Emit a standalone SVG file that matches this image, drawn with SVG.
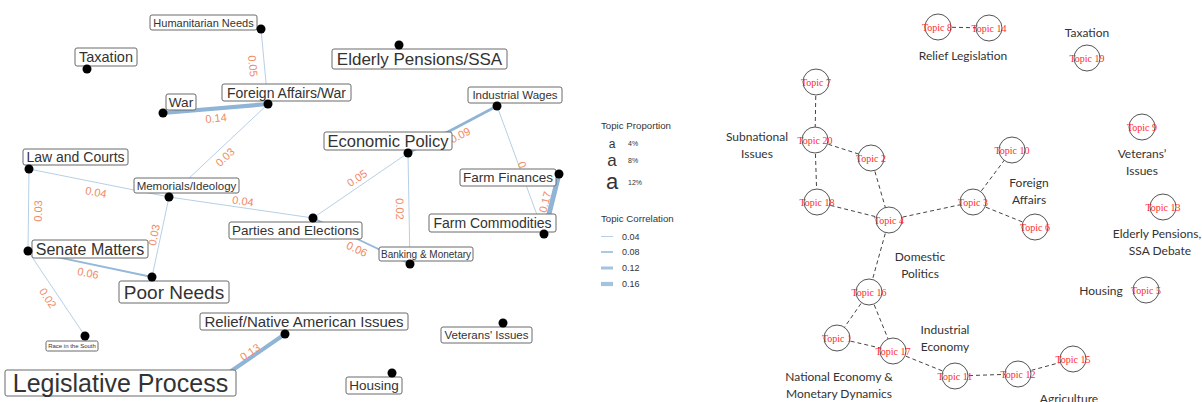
<svg xmlns="http://www.w3.org/2000/svg" width="1202" height="402" viewBox="0 0 1202 402">
<style>
.e{stroke:#a3c3df;fill:none;stroke-linecap:round}
.el{fill:#f08a65;font-family:"Liberation Sans",Arial,sans-serif;font-size:11px;text-anchor:middle}
.bx{fill:#fff;stroke:#6a6a6a;stroke-width:1}
.bt{fill:#333;font-family:"Liberation Sans",Arial,sans-serif;text-anchor:middle}
.dot{fill:#000}
.lg{fill:#333;font-family:"Liberation Sans",Arial,sans-serif}
.de{stroke:#444;stroke-width:1;stroke-dasharray:4 3;fill:none}
.tc{fill:#fff;stroke:#555;stroke-width:1}
.tt{fill:#ff2b2b;font-family:"Liberation Serif","Times New Roman",serif;font-size:10px;text-anchor:middle}
.rt{fill:#333;font-family:Lato,"Liberation Sans",sans-serif;font-size:12px;text-anchor:middle}
</style>
<rect width="1202" height="402" fill="#fff"/>
<!-- Left network connectors -->
<g id="connectors-left">
<line class="e" x1="261" y1="29" x2="268" y2="104" stroke-width="0.8"/>
<line class="e" x1="163" y1="113" x2="268" y2="104" stroke-width="4.2" style="stroke:#8fb4d6"/>
<line class="e" x1="268" y1="104" x2="169" y2="197" stroke-width="0.8"/>
<line class="e" x1="29" y1="169" x2="169" y2="197" stroke-width="0.8"/>
<line class="e" x1="169" y1="197" x2="313" y2="218" stroke-width="0.8"/>
<line class="e" x1="169" y1="197" x2="152" y2="277" stroke-width="0.8"/>
<line class="e" x1="29" y1="169" x2="28" y2="251" stroke-width="0.8"/>
<line class="e" x1="28" y1="251" x2="152" y2="277" stroke-width="1.8" style="stroke:#95b8d9"/>
<line class="e" x1="28" y1="251" x2="85" y2="336" stroke-width="0.8"/>
<line class="e" x1="285" y1="334" x2="224" y2="376" stroke-width="4" style="stroke:#8fb4d6"/>
<line class="e" x1="408" y1="153" x2="497" y2="106" stroke-width="2.6" style="stroke:#8fb4d6"/>
<line class="e" x1="408" y1="153" x2="313" y2="218" stroke-width="0.8"/>
<line class="e" x1="408" y1="153" x2="410" y2="264" stroke-width="0.8"/>
<line class="e" x1="313" y1="218" x2="410" y2="264" stroke-width="1.8" style="stroke:#95b8d9"/>
<line class="e" x1="497" y1="106" x2="544" y2="234" stroke-width="0.8"/>
<line class="e" x1="559" y1="174" x2="544" y2="234" stroke-width="5" style="stroke:#8fb4d6"/>
</g>
<g id="edge-labels">
<text class="el" transform="translate(253,66) rotate(85)" dy="4">0.05</text>
<text class="el" transform="translate(216,118) rotate(-5)" dy="4">0.14</text>
<text class="el" transform="translate(225,157) rotate(-43)" dy="4">0.03</text>
<text class="el" transform="translate(96,192) rotate(11)" dy="4">0.04</text>
<text class="el" transform="translate(243,201) rotate(8)" dy="4">0.04</text>
<text class="el" transform="translate(154,235) rotate(-78)" dy="4">0.03</text>
<text class="el" transform="translate(38,211) rotate(-89)" dy="4">0.03</text>
<text class="el" transform="translate(88,273) rotate(12)" dy="4">0.06</text>
<text class="el" transform="translate(48,298) rotate(56)" dy="4">0.02</text>
<text class="el" transform="translate(250,352) rotate(-34)" dy="4">0.13</text>
<text class="el" transform="translate(460,135) rotate(-28)" dy="4">0.09</text>
<text class="el" transform="translate(357,178) rotate(-34)" dy="4">0.05</text>
<text class="el" transform="translate(400,209) rotate(89)" dy="4">0.02</text>
<text class="el" transform="translate(357,249) rotate(25)" dy="4">0.06</text>
<text class="el" transform="translate(525,172) rotate(70)" dy="4">0.03</text>
<text class="el" transform="translate(545,202) rotate(-76)" dy="4">0.17</text>
</g>
<!-- Left nodes -->
<g id="n-humanitarian"><rect class="bx" x="150" y="15" width="107" height="15" rx="2"/><text class="bt" x="203.5" y="26.5" font-size="11">Humanitarian Needs</text><circle class="dot" cx="261" cy="29" r="4.5"/></g>
<g id="n-taxation"><rect class="bx" x="75" y="48" width="62" height="18" rx="2"/><text class="bt" x="106" y="62.2" font-size="14.5">Taxation</text><circle class="dot" cx="87" cy="69" r="4.5"/></g>
<g id="n-war"><rect class="bx" x="166" y="94" width="30" height="16" rx="2"/><text class="bt" x="181" y="107" font-size="13.6">War</text><circle class="dot" cx="163" cy="113" r="4.5"/></g>
<g id="n-foreign"><rect class="bx" x="222" y="84" width="129" height="17" rx="2"/><text class="bt" x="286.5" y="97.5" font-size="14">Foreign Affairs/War</text><circle class="dot" cx="268" cy="104" r="4.5"/></g>
<g id="n-elderly"><rect class="bx" x="332" y="49" width="175" height="20" rx="2"/><text class="bt" x="419.5" y="65.1" font-size="17">Elderly Pensions/SSA</text><circle class="dot" cx="399" cy="45" r="4.5"/></g>
<g id="n-industrial"><rect class="bx" x="468" y="87" width="94" height="16" rx="2"/><text class="bt" x="515" y="99.1" font-size="11.5">Industrial Wages</text><circle class="dot" cx="497" cy="106" r="4.5"/></g>
<g id="n-economic"><rect class="bx" x="324" y="132" width="128" height="18" rx="2"/><text class="bt" x="388" y="146.9" font-size="16.5">Economic Policy</text><circle class="dot" cx="408" cy="153" r="4.5"/></g>
<g id="n-law"><rect class="bx" x="23" y="149" width="105" height="16" rx="2"/><text class="bt" x="75.5" y="162" font-size="14">Law and Courts</text><circle class="dot" cx="29" cy="169" r="4.5"/></g>
<g id="n-memorials"><rect class="bx" x="134" y="178" width="105" height="15" rx="2"/><text class="bt" x="186.5" y="189.6" font-size="11.5">Memorials/Ideology</text><circle class="dot" cx="169" cy="197" r="4.5"/></g>
<g id="n-farmfin"><rect class="bx" x="460" y="169" width="96" height="17" rx="2"/><text class="bt" x="508" y="182.4" font-size="13.5">Farm Finances</text><circle class="dot" cx="559" cy="174" r="4.5"/></g>
<g id="n-farmcom"><rect class="bx" x="429" y="214" width="127" height="18" rx="2"/><text class="bt" x="492.5" y="228" font-size="14">Farm Commodities</text><circle class="dot" cx="544" cy="234" r="4.5"/></g>
<g id="n-parties"><rect class="bx" x="229" y="222" width="133" height="17" rx="2"/><text class="bt" x="295.5" y="235.4" font-size="13.5">Parties and Elections</text><circle class="dot" cx="313" cy="218" r="4.5"/></g>
<g id="n-senate"><rect class="bx" x="32" y="240" width="116" height="18" rx="2"/><text class="bt" x="90" y="254.7" font-size="16">Senate Matters</text><circle class="dot" cx="28" cy="251" r="4.5"/></g>
<g id="n-banking"><rect class="bx" x="379" y="247" width="94" height="14" rx="2"/><text class="bt" x="426" y="257.6" font-size="10">Banking &amp; Monetary</text><circle class="dot" cx="410" cy="264" r="4.5"/></g>
<g id="n-poor"><rect class="bx" x="119" y="281" width="110" height="22" rx="2"/><text class="bt" x="174" y="298.8" font-size="19">Poor Needs</text><circle class="dot" cx="152" cy="277" r="4.5"/></g>
<g id="n-relief"><rect class="bx" x="200" y="313" width="208" height="17" rx="2"/><text class="bt" x="304" y="326.9" font-size="15">Relief/Native American Issues</text><circle class="dot" cx="285" cy="334" r="4.5"/></g>
<g id="n-veterans"><rect class="bx" x="441" y="327" width="91" height="16" rx="2"/><text class="bt" x="486.5" y="339.1" font-size="11.5">Veterans' Issues</text><circle class="dot" cx="503" cy="323" r="4.5"/></g>
<g id="n-race"><rect class="bx" x="46" y="341" width="52" height="10" rx="1.5"/><text class="bt" x="72" y="348.2" font-size="6">Race in the South</text><circle class="dot" cx="85" cy="336" r="4.5"/></g>
<g id="n-legislative"><rect class="bx" x="5" y="370" width="231" height="26" rx="2"/><text class="bt" x="120.5" y="392" font-size="25">Legislative Process</text></g>
<g id="n-housing"><rect class="bx" x="346" y="377" width="56" height="17" rx="2"/><text class="bt" x="374" y="390.4" font-size="13.5">Housing</text><circle class="dot" cx="392" cy="373" r="4.5"/></g>
<!-- Legend -->
<g id="legend">
<text class="lg" x="601" y="129" font-size="9.7">Topic Proportion</text>
<text class="lg" x="612" y="148" font-size="12" text-anchor="middle">a</text>
<text class="lg" x="628" y="146" font-size="7">4%</text>
<text class="lg" x="612" y="166" font-size="17" text-anchor="middle">a</text>
<text class="lg" x="628" y="163" font-size="7">8%</text>
<text class="lg" x="612" y="189" font-size="22" text-anchor="middle">a</text>
<text class="lg" x="628" y="185" font-size="7">12%</text>
<text class="lg" x="601" y="222" font-size="9.7">Topic Correlation</text>
<line class="e" x1="601" y1="236.5" x2="613" y2="236.5" stroke-width="0.8" style="stroke-linecap:butt"/>
<line class="e" x1="601" y1="252" x2="613" y2="252" stroke-width="1.8" style="stroke-linecap:butt"/>
<line class="e" x1="601" y1="268" x2="613" y2="268" stroke-width="3" style="stroke-linecap:butt"/>
<line class="e" x1="601" y1="284" x2="613" y2="284" stroke-width="4.2" style="stroke-linecap:butt"/>
<text class="lg" x="622" y="239.5" font-size="9">0.04</text>
<text class="lg" x="622" y="255" font-size="9">0.08</text>
<text class="lg" x="622" y="271" font-size="9">0.12</text>
<text class="lg" x="622" y="287" font-size="9">0.16</text>
</g>
<!-- Right network connectors -->
<g id="connectors-right">
<line class="de" x1="938" y1="27" x2="989" y2="28"/>
<line class="de" x1="816" y1="82" x2="815" y2="140"/>
<line class="de" x1="815" y1="140" x2="871" y2="158"/>
<line class="de" x1="815" y1="140" x2="817" y2="202"/>
<line class="de" x1="871" y1="158" x2="889" y2="220"/>
<line class="de" x1="817" y1="202" x2="889" y2="220"/>
<line class="de" x1="889" y1="220" x2="973" y2="202"/>
<line class="de" x1="973" y1="202" x2="1012" y2="150"/>
<line class="de" x1="973" y1="202" x2="1035" y2="227"/>
<line class="de" x1="889" y1="220" x2="869" y2="292"/>
<line class="de" x1="869" y1="292" x2="837" y2="338"/>
<line class="de" x1="869" y1="292" x2="893" y2="351"/>
<line class="de" x1="837" y1="338" x2="893" y2="351"/>
<line class="de" x1="893" y1="351" x2="955" y2="376"/>
<line class="de" x1="955" y1="376" x2="1018" y2="374"/>
<line class="de" x1="1018" y1="374" x2="1073" y2="359"/>
</g>
<!-- Right nodes -->
<g id="t8"><circle class="tc" cx="938" cy="27" r="13"/><text class="tt" x="937" y="30.5">Topic 8</text></g>
<g id="t14"><circle class="tc" cx="989" cy="28" r="13"/><text class="tt" x="989" y="31.5">Topic 14</text></g>
<g id="t19"><circle class="tc" cx="1087" cy="58" r="13"/><text class="tt" x="1087" y="61.5">Topic 19</text></g>
<g id="t7"><circle class="tc" cx="816" cy="82" r="13"/><text class="tt" x="816" y="85.5">Topic 7</text></g>
<g id="t20"><circle class="tc" cx="815" cy="140" r="13"/><text class="tt" x="815" y="143.5">Topic 20</text></g>
<g id="t2"><circle class="tc" cx="871" cy="158" r="13"/><text class="tt" x="871" y="161.5">Topic 2</text></g>
<g id="t10"><circle class="tc" cx="1012" cy="150" r="13"/><text class="tt" x="1012" y="153.5">Topic 10</text></g>
<g id="t9"><circle class="tc" cx="1142" cy="127" r="13"/><text class="tt" x="1142" y="130.5">Topic 9</text></g>
<g id="t18"><circle class="tc" cx="817" cy="202" r="13"/><text class="tt" x="817" y="205.5">Topic 18</text></g>
<g id="t4"><circle class="tc" cx="889" cy="220" r="13"/><text class="tt" x="889" y="223.5">Topic 4</text></g>
<g id="t3"><circle class="tc" cx="973" cy="202" r="13"/><text class="tt" x="973" y="205.5">Topic 3</text></g>
<g id="t6"><circle class="tc" cx="1035" cy="227" r="13"/><text class="tt" x="1035" y="230.5">Topic 6</text></g>
<g id="t13"><circle class="tc" cx="1163" cy="207" r="13"/><text class="tt" x="1163" y="210.5">Topic 13</text></g>
<g id="t5"><circle class="tc" cx="1146" cy="290" r="13"/><text class="tt" x="1146" y="293.5">Topic 5</text></g>
<g id="t16"><circle class="tc" cx="869" cy="292" r="13"/><text class="tt" x="869" y="295.5">Topic 16</text></g>
<g id="t1"><circle class="tc" cx="837" cy="338" r="13"/><text class="tt" x="837" y="341.5">Topic 1</text></g>
<g id="t17"><circle class="tc" cx="893" cy="351" r="13"/><text class="tt" x="893" y="354.5">Topic 17</text></g>
<g id="t11"><circle class="tc" cx="955" cy="376" r="13"/><text class="tt" x="955" y="379.5">Topic 11</text></g>
<g id="t12"><circle class="tc" cx="1018" cy="374" r="13"/><text class="tt" x="1018" y="377.5">Topic 12</text></g>
<g id="t15"><circle class="tc" cx="1073" cy="359" r="13"/><text class="tt" x="1073" y="362.5">Topic 15</text></g>
<!-- Right cluster labels -->
<g id="cluster-labels">
<text class="rt" x="963" y="60">Relief Legislation</text>
<text class="rt" x="1087" y="37">Taxation</text>
<text class="rt" x="757" y="141">Subnational</text>
<text class="rt" x="757" y="158">Issues</text>
<text class="rt" x="1142" y="158">Veterans’</text>
<text class="rt" x="1142" y="175">Issues</text>
<text class="rt" x="1029" y="187">Foreign</text>
<text class="rt" x="1029" y="204">Affairs</text>
<text class="rt" x="1157" y="238">Elderly Pensions,</text>
<text class="rt" x="1160" y="255">SSA Debate</text>
<text class="rt" x="920" y="261">Domestic</text>
<text class="rt" x="920" y="278">Politics</text>
<text class="rt" x="1101" y="295">Housing</text>
<text class="rt" x="945" y="334">Industrial</text>
<text class="rt" x="945" y="351">Economy</text>
<text class="rt" x="839" y="381">National Economy &amp;</text>
<text class="rt" x="839" y="398">Monetary Dynamics</text>
<text class="rt" x="1069" y="403">Agriculture</text>
</g>
</svg>
